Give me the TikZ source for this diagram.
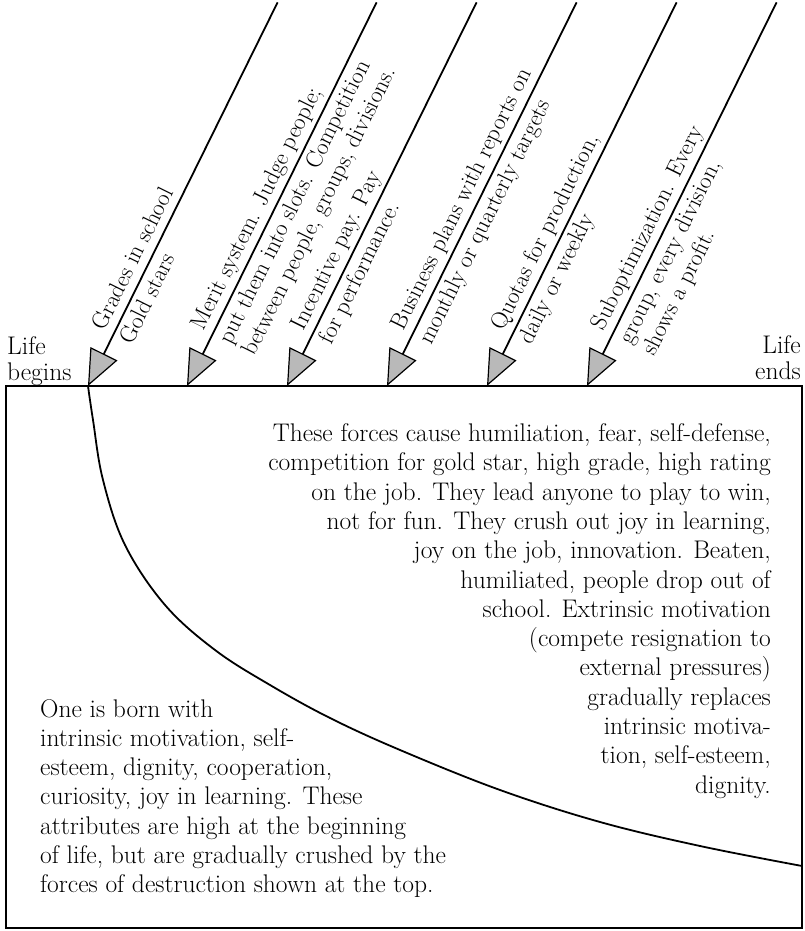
\documentclass[tikz,border=0pt]{standalone}
\usepackage{amsmath}
\usetikzlibrary{arrows.meta, calc}
\newcommand{\bodysize}{\fontsize{25.5}{29.3}\selectfont}
\newcommand{\forcesize}{\fontsize{23.5}{25}\selectfont}
\newcommand{\lifesize}{\fontsize{25.5}{26}\selectfont}
\begin{document}
\begin{tikzpicture}[x=1pt, y=1pt,
	force/.style={line width=1.8pt, -{Triangle[length=36pt, width=30pt, fill=gray!55, line width=1.2pt]}},
	forcetext/.style={transform shape, anchor=base west, inner sep=0pt, font=\forcesize},
	bodytext/.style={inner sep=0pt, font=\bodysize},
	frame/.style={line width=1.8pt}]
	\useasboundingbox (0,0) rectangle (805,931);
	
	\draw[frame] (6,3) rectangle (802,545);
	\node[inner sep=0pt, font=\lifesize, anchor=north west, align=left] (begins) at (7,595) {Life\\begins};
	\node[inner sep=0pt, font=\lifesize, anchor=north east, align=right] (ends) at (801,596) {Life\\ends};
	
	\begin{scope}[shift={(88,545)}, rotate=63.7]
	\coordinate (tip1) at (0,0);
	\coordinate (top1) at (428,0);
	\draw[force] (top1) -- (tip1);
	\node[forcetext] (grades) at (56,9) {Grades in school};
	\node[forcetext] (gold) at (56,-22) {Gold stars};
	\end{scope}
	
	\begin{scope}[shift={(187,545)}, rotate=63.7]
	\coordinate (tip2) at (0,0);
	\coordinate (top2) at (428,0);
	\draw[force] (top2) -- (tip2);
	\node[forcetext] (merit) at (56,9) {Merit system. Judge people;};
	\node[forcetext] (slots) at (56,-22) {put them into slots. Competition};
	\node[forcetext] (between) at (56,-48) {between people, groups, divisions.};
	\end{scope}
	
	\begin{scope}[shift={(287,545)}, rotate=63.7]
	\coordinate (tip3) at (0,0);
	\coordinate (top3) at (428,0);
	\draw[force] (top3) -- (tip3);
	\node[forcetext] (incentive) at (56,9) {Incentive pay. Pay};
	\node[forcetext] (perform) at (56,-22) {for performance.};
	\end{scope}
	
	\begin{scope}[shift={(387,545)}, rotate=63.7]
	\coordinate (tip4) at (0,0);
	\coordinate (top4) at (428,0);
	\draw[force] (top4) -- (tip4);
	\node[forcetext] (plans) at (56,9) {Business plans with reports on};
	\node[forcetext] (targets) at (56,-22) {monthly or quarterly targets};
	\end{scope}
	
	\begin{scope}[shift={(487,545)}, rotate=63.7]
	\coordinate (tip5) at (0,0);
	\coordinate (top5) at (428,0);
	\draw[force] (top5) -- (tip5);
	\node[forcetext] (quotas) at (56,9) {Quotas for production,};
	\node[forcetext] (weekly) at (56,-22) {daily or weekly};
	\end{scope}
	
	\begin{scope}[shift={(587,545)}, rotate=63.7]
	\coordinate (tip6) at (0,0);
	\coordinate (top6) at (428,0);
	\draw[force] (top6) -- (tip6);
	\node[forcetext] (subopt) at (56,9) {Suboptimization. Every};
	\node[forcetext] (division) at (56,-22) {group, every division,};
	\node[forcetext] (profit) at (56,-48) {shows a profit.};
	\end{scope}
	
	\draw[frame] plot[smooth, tension=0.6] coordinates {(88,545) (93,511) (103,451) (125,386) (165,326) (215,281) (270,246) (330,213) (400,181) (500,141) (600,109) (700,85) (802,65)};
	
	\node[bodytext, anchor=north east, align=right] (forces) at (771,507.5) {These forces cause humiliation, fear, self-defense,\\
		competition for gold star, high grade, high rating\\
		on the job. They lead anyone to play to win,\\
		not for fun. They crush out joy in learning,\\
		joy on the job, innovation. Beaten,\\
		humiliated, people drop out of\\
		school. Extrinsic motivation\\
		(compete resignation to\\
		external pressures)\\
		gradually replaces\\
		intrinsic motiva-\\
		tion, self-esteem,\\
		dignity.};
	
	\node[bodytext, anchor=north west, align=left] (born) at (40,232) {One is born with\\
		intrinsic motivation, self-\\
		esteem, dignity, cooperation,\\
		curiosity, joy in learning. These\\
		attributes are high at the beginning\\
		of life, but are gradually crushed by the\\
		forces of destruction shown at the top.};
\end{tikzpicture}
\end{document}
